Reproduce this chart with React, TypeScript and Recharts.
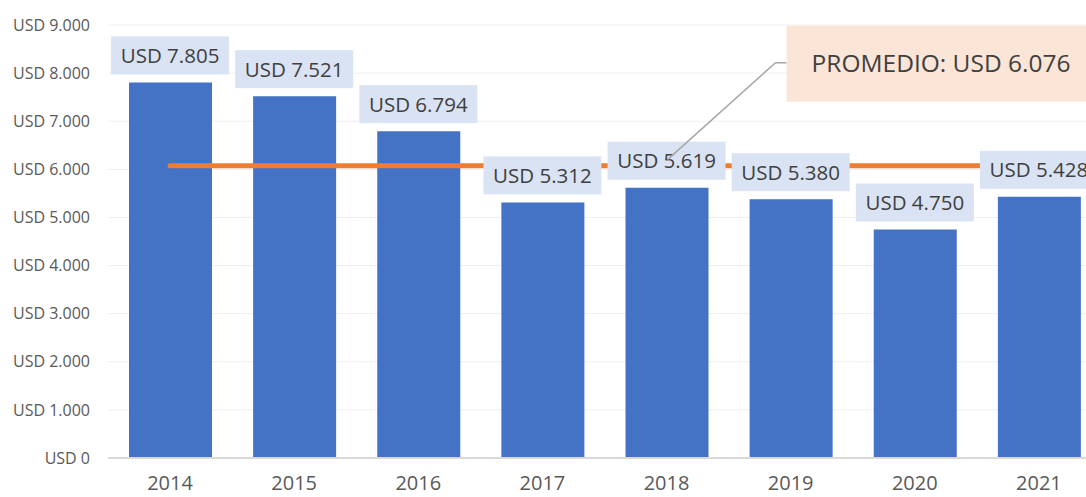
import React from 'react';
import {
    ComposedChart,
    Bar,
    Line,
    XAxis,
    YAxis,
    CartesianGrid,
    LabelList,
} from 'recharts';

const YEARS = ['2014', '2015', '2016', '2017', '2018', '2019', '2020', '2021'];
const PRICES = [7805, 7521, 6794, 5312, 5619, 5380, 4750, 5428];
const AVERAGE = 6076;
const Y_TICKS = [0, 1000, 2000, 3000, 4000, 5000, 6000, 7000, 8000, 9000];
const CALLOUT_INDEX = 4;

const FONT = '"Open Sans", "Noto Sans", sans-serif';

// thousands with a dot, like the spanish excel format
const usd = (n: number) => `USD ${String(n).replace(/\B(?=(\d{3})+(?!\d))/g, '.')}`;

const data = YEARS.map((year, i) => ({
    year,
    value: PRICES[i],
    avg: AVERAGE,
}));

const ValueBox = (props: any) => {
    const { x, y, value } = props;
    if (x == null || y == null) return null;
    const w = 118;
    const h = 38;
    const bottom = y - 8;
    return (
        <g>
            <rect x={x - w / 2} y={bottom - h} width={w} height={h} fill="#DAE3F3" />
            <text
                x={x}
                y={bottom - h / 2}
                dy="0.36em"
                textAnchor="middle"
                fontSize={20.5}
                fontFamily={FONT}
                fill="#404040"
            >
                {usd(value)}
            </text>
        </g>
    );
};

const Callout = (props: any) => {
    const { x, y, index } = props;
    if (index !== CALLOUT_INDEX || x == null || y == null) return null;
    const boxX = x + 120;
    const boxY = y - 140;
    return (
        <g>
            <polyline
                points={`${x + 1},${y - 6} ${x + 109},${y - 103} ${boxX},${y - 103}`}
                fill="none"
                stroke="#A6A6A6"
                strokeWidth={1.5}
            />
            <rect x={boxX} y={boxY} width={330} height={76} fill="#FBE5D6" />
            <text
                x={boxX + 25}
                y={boxY + 38}
                dy="0.36em"
                fontSize={24.5}
                fontFamily={FONT}
                fill="#404040"
            >
                {`PROMEDIO: ${usd(AVERAGE)}`}
            </text>
        </g>
    );
};

export default function App() {
    return (
        <div
            style={{
                position: 'absolute',
                left: 0,
                top: 0,
                width: 1086,
                height: 497,
                overflow: 'hidden',
                background: '#fff',
            }}
        >
            <ComposedChart
                width={1110}
                height={497}
                data={data}
                margin={{ top: 25, right: 9, left: 0, bottom: 0 }}
                barCategoryGap={0}
            >
                <CartesianGrid vertical={false} stroke="#EFEFEF" strokeWidth={1} />
                <XAxis
                    dataKey="year"
                    height={39}
                    axisLine={{ stroke: '#D9D9D9', strokeWidth: 2 }}
                    tickLine={false}
                    tickSize={0}
                    tickMargin={18}
                    interval={0}
                    tick={{ fill: '#595959', fontSize: 20, fontFamily: FONT }}
                />
                <YAxis
                    width={108}
                    domain={[0, 9000]}
                    ticks={Y_TICKS}
                    axisLine={false}
                    tickLine={false}
                    tickSize={0}
                    tickMargin={18}
                    tickFormatter={usd}
                    tick={{ fill: '#595959', fontSize: 16, fontFamily: FONT }}
                />
                <Bar dataKey="value" fill="#4472C4" barSize={83} isAnimationActive={false} />
                <Line
                    dataKey="avg"
                    stroke="#ED7D31"
                    strokeWidth={5}
                    strokeLinecap="round"
                    dot={false}
                    activeDot={false}
                    isAnimationActive={false}
                />
                {/* invisible line used only to place the value boxes over the average line */}
                <Line
                    dataKey="value"
                    stroke="none"
                    dot={false}
                    activeDot={false}
                    isAnimationActive={false}
                >
                    <LabelList dataKey="value" content={<ValueBox />} />
                </Line>
                <Line
                    dataKey="avg"
                    stroke="none"
                    dot={false}
                    activeDot={false}
                    isAnimationActive={false}
                >
                    <LabelList dataKey="avg" content={<Callout />} />
                </Line>
            </ComposedChart>
        </div>
    );
}
